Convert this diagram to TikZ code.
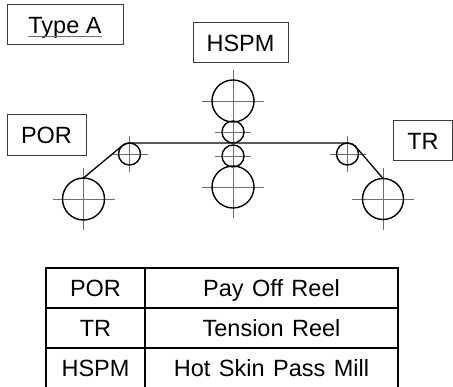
\documentclass[tikz,border=0pt]{standalone}
\usepackage{fontspec}
\setmainfont{Liberation Sans}
\usepackage{tikz}
\usetikzlibrary{calc}
\definecolor{ink}{HTML}{000000}
\definecolor{frame}{HTML}{3C3C3C}
\definecolor{axis}{HTML}{6E6E6E}
\newcommand\widesp{\spaceskip=0.36em plus 0.1em\relax}
\tikzset{
  roll/.style={circle, draw=ink, line width=1.4pt, inner sep=0pt, outer sep=0pt, minimum size=#1},
  strip/.style={draw=ink, line width=1.3pt, line cap=round, line join=round},
  axisln/.style={draw=axis, line width=0.9pt},
  tag/.style={draw=frame, line width=1pt, inner sep=0pt, outer sep=0pt, text depth=0pt, font=\fontsize{23.5}{28}\selectfont},
  cell/.style={tag, draw=ink, line width=1.1pt, minimum height=40pt},
}
\begin{document}
\begin{tikzpicture}[x=1pt,y=1pt]
  \useasboundingbox (0,0) rectangle (453,-387);
  % reels and rolls: name/x/y/diameter/axis half length
  \foreach \n/\x/\y/\d/\a in {por/83.5/199/42/31, porroll/129.5/154/22/18, wrtop/233/101/42/31, wrup/233/132/22/18, wrlow/233/156/22/18, wrbot/233/187/42/31, trroll/347.5/154/22/18, tr/383/199/41/31}{
    \draw[axisln] (\x-\a,-\y) -- (\x+\a,-\y) (\x,-\y+\a) -- (\x,-\y-\a);
    \node[roll=\d pt] (\n) at (\x,-\y) {};
  }
  \draw[strip] (por.north) -- (porroll.130) arc[start angle=130, end angle=90, radius=11]
    -- (trroll.north) arc[start angle=90, end angle=41, radius=11] -- (tr.north);
  % labels
  \node[tag, minimum width=116pt, minimum height=40pt] (typea) at (65,-25) {};
  \node[tag, draw=none] (typetxt) at (65,-25) {Type A};
  \draw[axisln, line width=0.8pt] ([yshift=-3.5pt]typetxt.base west) -- ([yshift=-3.5pt]typetxt.base east);
  \node[tag, minimum width=95pt, minimum height=40pt] (hspm) at (240.5,-43) {HSPM};
  \node[tag, minimum width=79pt, minimum height=41pt] (porlab) at (46.5,-135.5) {POR};
  \node[tag, minimum width=59.5pt, minimum height=40pt] (trlab) at (423,-141) {TR};
  % legend table
  \foreach \k/\abbr/\full in {1/POR/Pay Off Reel, 2/TR/Tension Reel, 3/HSPM/Hot Skin Pass Mill}{
    \node[cell, minimum width=99pt] (ab\k) at (95.5,-248-40*\k) {\abbr};
    \node[cell, minimum width=253pt, anchor=west] (nm\k) at (ab\k.east) {\widesp\full};
  }
\end{tikzpicture}
\end{document}
